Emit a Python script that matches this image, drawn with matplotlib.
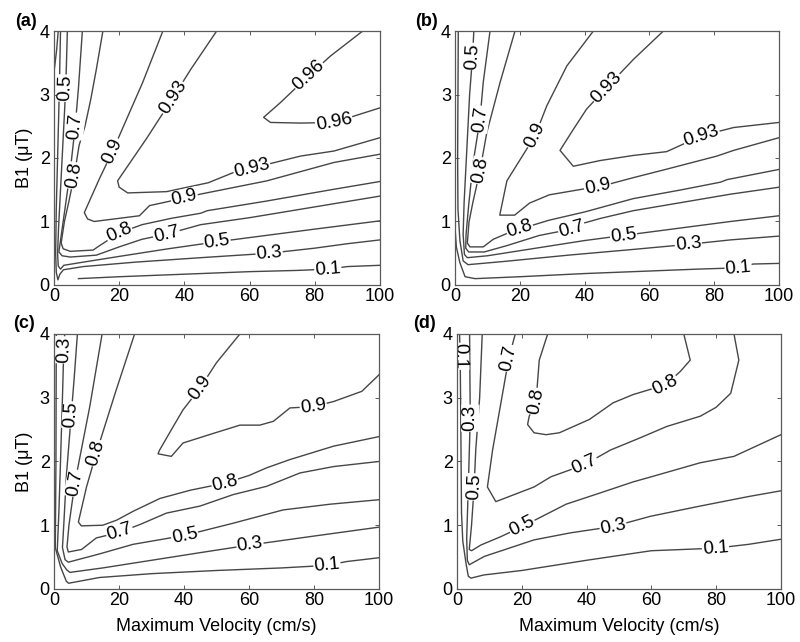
"""Four-panel contour map of labelling efficiency vs velocity and B1."""

import matplotlib
matplotlib.use("Agg")
import matplotlib.pyplot as plt
import numpy as np

plt.rcParams["font.family"] = ["Liberation Sans", "DejaVu Sans"]

LINE_COLOR = "#464646"
SPINE_COLOR = "#5a5a5a"
FS = 13

X_TICKS = [0, 20, 40, 60, 80, 100]
Y_TICKS = [0, 1, 2, 3, 4]
X_LABEL = "Maximum Velocity (cm/s)"
Y_LABEL = "B1 (\u03bcT)"

# contour lines: level -> list of polylines (velocity, B1)
LINES_A = {
    0.1: [[(1.3, 4.0), (0.8, 3.7), (0.0, 3.35)],
          [(7.5, 0.10), (20, 0.13), (40, 0.17), (60, 0.21), (75, 0.23), (84, 0.25), (90, 0.29), (100, 0.31)]],
    0.3: [[(2.0, 4.0), (1.6, 3.0), (1.1, 2.0), (0.7, 1.2), (0.5, 0.5), (0.7, 0.2), (1.2, 0.08), (1.8, 0.17),
           (2.9, 0.24), (9, 0.29), (25, 0.36), (45, 0.43), (66, 0.50), (80, 0.58), (90, 0.65), (100, 0.71)]],
    0.5: [[(4.1, 4.0), (3.6, 3.1), (2.8, 2.3), (2.0, 1.5), (1.4, 0.9), (1.1, 0.5), (1.3, 0.3), (2.0, 0.25),
           (3.0, 0.31), (9, 0.36), (20, 0.45), (35, 0.57), (50, 0.68), (65, 0.78), (80, 0.88), (100, 1.01)]],
    0.7: [[(8.7, 4.0), (7.5, 3.1), (6.5, 2.5), (5.0, 1.8), (3.5, 1.25), (2.4, 0.85), (1.5, 0.52), (2.5, 0.46),
           (5, 0.44), (13, 0.47), (20, 0.6), (27, 0.72), (34.5, 0.80), (45, 0.95), (60, 1.06), (80, 1.23),
           (100, 1.40)]],
    0.8: [[(15, 4.0), (13, 3.4), (11.3, 2.93), (9.5, 2.5), (7.7, 2.2), (6.2, 1.72), (4.5, 1.3), (3.2, 1.0),
           (2.6, 0.8), (2.2, 0.66), (2.8, 0.57), (5, 0.53), (12, 0.55), (14, 0.62), (17, 0.72), (20, 0.82),
           (27, 0.95), (36, 1.05), (45, 1.13), (47, 1.17), (65, 1.32), (85, 1.5), (100, 1.63)]],
    0.9: [[(33.4, 4.0), (27.2, 3.19), (18, 2.11), (13.9, 1.67), (9.3, 1.14), (10.3, 1.04), (12.3, 1.0),
           (26.2, 1.09), (29.3, 1.25), (40, 1.37), (44.8, 1.43), (65.3, 1.64), (85.9, 1.93), (100, 2.06)]],
    0.93: [[(49.9, 4.0), (42, 3.4), (36.5, 2.95), (28.3, 2.30), (19.5, 1.64), (20, 1.54), (22.6, 1.45),
            (34.5, 1.47), (47.3, 1.61), (55, 1.77), (60.7, 1.84), (75.6, 2.03), (85.9, 2.11), (100, 2.32)]],
    0.96: [[(94.7, 4.0), (84.9, 3.61), (78.2, 3.3), (69.4, 2.87), (64.3, 2.64), (66.4, 2.56), (75.6, 2.55),
            (85.9, 2.56), (100, 2.79)]],
}
LABELS_A = [(0.96, 78.2, 3.3), (0.96, 85.9, 2.56), (0.93, 36.5, 2.95), (0.93, 60.7, 1.84),
            (0.9, 18, 2.11), (0.9, 40, 1.37), (0.8, 6.2, 1.72), (0.8, 20, 0.82), (0.7, 6.5, 2.5),
            (0.7, 34.5, 0.80), (0.5, 3.6, 3.1), (0.5, 50, 0.68), (0.3, 66, 0.50), (0.1, 84, 0.25)]

LINES_B = {
    0.1: [[(0.0, 0.9), (0.4, 0.6), (1.5, 0.35), (3.1, 0.13), (6.2, 0.10), (20, 0.13), (40, 0.18), (60, 0.22),
           (75, 0.25), (87.4, 0.27), (92, 0.33), (100, 0.34)]],
    0.3: [[(1.0, 4.0), (0.9, 3.0), (0.8, 2.0), (0.9, 1.2), (1.5, 0.7), (2.5, 0.38), (4, 0.32), (15, 0.37),
           (35, 0.47), (55, 0.56), (72, 0.64), (85, 0.71), (100, 0.77)]],
    0.5: [[(5.8, 4.0), (5.4, 3.6), (4.5, 3.0), (3.5, 2.0), (2.8, 1.3), (2.5, 0.8), (2.9, 0.48), (3.8, 0.43),
           (10, 0.46), (25, 0.58), (40, 0.70), (52, 0.78), (70, 0.9), (85, 1.0), (100, 1.09)]],
    0.7: [[(10.8, 4.0), (8.7, 3.19), (7.7, 2.61), (5.5, 1.9), (4.2, 1.25), (3.4, 0.8), (3.3, 0.58),
           (4.2, 0.52), (9, 0.52), (16, 0.62), (26, 0.78), (36, 0.88), (38, 0.95), (45, 1.05), (55, 1.17),
           (70, 1.3), (85, 1.43), (100, 1.54)]],
    0.8: [[(18.5, 4.0), (13.9, 3.19), (9.8, 2.4), (7.7, 1.8), (5.5, 1.3), (4.3, 0.99), (3.8, 0.66),
           (4.6, 0.6), (8.7, 0.6), (11.8, 0.72), (16.4, 0.82), (20, 0.88), (29, 1.02), (40, 1.15),
           (55, 1.36), (70, 1.5), (82, 1.62), (84, 1.66), (100, 1.82)]],
    0.9: [[(42.7, 4.0), (34.5, 3.45), (28.3, 2.82), (24.7, 2.35), (20.4, 2.0), (16, 1.64), (13.8, 1.10),
           (18.4, 1.10), (23, 1.29), (29.1, 1.42), (39.4, 1.51), (44, 1.54), (55, 1.69), (65, 1.82),
           (80.8, 2.03), (86, 2.12), (100, 2.32)]],
    0.93: [[(64.3, 4.0), (55, 3.55), (46.8, 3.11), (40.6, 2.77), (36.5, 2.45), (32.4, 2.12), (36.5, 1.87),
            (44.8, 1.96), (55, 2.04), (65.3, 2.1), (70.5, 2.22), (76, 2.35), (86, 2.48), (100, 2.56)]],
}
LABELS_B = [(0.93, 46.8, 3.11), (0.93, 76, 2.35), (0.9, 24.7, 2.35), (0.9, 44, 1.54), (0.8, 7.7, 1.8),
            (0.8, 20, 0.88), (0.7, 7.7, 2.61), (0.7, 36, 0.88), (0.5, 5.4, 3.6), (0.5, 52, 0.78),
            (0.3, 72, 0.64), (0.1, 87.4, 0.27)]

LINES_C = {
    0.1: [[(0.7, 4.0), (0.6, 2.0), (0.4, 0.65), (2.0, 0.35), (3.8, 0.12), (4.5, 0.09), (14, 0.18), (30, 0.24),
           (50, 0.29), (70, 0.33), (84, 0.37), (90, 0.43), (100, 0.49)]],
    0.3: [[(3.3, 4.0), (3.0, 3.75), (2.6, 3.0), (2.0, 2.0), (1.5, 1.2), (1.0, 0.6), (2.5, 0.4), (3.9, 0.3),
           (4.9, 0.26), (15, 0.33), (30, 0.45), (45, 0.57), (60.3, 0.69), (80, 0.83), (100, 0.97)]],
    0.5: [[(7.2, 4.0), (6.2, 3.3), (5.3, 2.73), (3.8, 1.77), (3.0, 1.0), (2.6, 0.65), (3.4, 0.46),
           (4.4, 0.42), (14, 0.55), (24.3, 0.7), (40.2, 0.84), (55, 1.03), (70.5, 1.24), (85, 1.33),
           (100, 1.40)]],
    0.7: [[(14.8, 4.0), (11, 2.86), (6.4, 1.66), (4.6, 1.0), (4.0, 0.66), (4.4, 0.58), (8.5, 0.62),
           (13, 0.8), (20.2, 0.89), (26.4, 1.01), (34.6, 1.19), (44.9, 1.30), (55.1, 1.48), (65.4, 1.61),
           (75.7, 1.82), (86, 1.92), (100, 2.0)]],
    0.8: [[(24.8, 4.0), (19, 3.1), (13, 2.13), (10, 1.6), (7.5, 1.05), (8.4, 0.99), (15, 1.0), (19.3, 1.08),
           (24.4, 1.22), (32.6, 1.42), (42, 1.55), (52.6, 1.66), (60, 1.78), (65.4, 1.9), (72.6, 2.03),
           (86, 2.24), (100, 2.39)]],
    0.9: [[(57.2, 4.0), (50, 3.55), (44.9, 3.15), (39.7, 2.81), (36.7, 2.55), (32.5, 2.18), (32, 2.12),
           (36.1, 2.08), (39.7, 2.29), (49, 2.44), (57.2, 2.57), (63.3, 2.57), (67.5, 2.63), (72.6, 2.84),
           (79.8, 2.86), (86, 2.94), (94.7, 3.1), (100, 3.36)]],
}
LABELS_C = [(0.9, 44.9, 3.15), (0.9, 79.8, 2.86), (0.8, 13, 2.13), (0.8, 52.6, 1.66), (0.7, 6.4, 1.66),
            (0.7, 20.2, 0.89), (0.5, 5.3, 2.73), (0.5, 40.2, 0.84), (0.3, 3.0, 3.75), (0.3, 60.3, 0.69),
            (0.1, 84, 0.37)]

LINES_D = {
    0.1: [[(0.8, 4.0), (1.0, 3.65), (1.2, 2.5), (1.4, 1.2), (1.8, 0.75), (2.8, 0.4), (3.5, 0.2), (4.3, 0.17),
           (8.3, 0.22), (20, 0.29), (40, 0.45), (60, 0.6), (70, 0.62), (79.8, 0.64), (90, 0.7), (100, 0.78)]],
    0.3: [[(3.9, 4.0), (4.1, 2.68), (3.5, 1.6), (3.0, 0.8), (3.2, 0.45), (3.8, 0.38), (8.4, 0.51),
           (23.8, 0.77), (35, 0.88), (48.2, 0.98), (59.7, 1.14), (75, 1.3), (90, 1.45), (100, 1.54)]],
    0.5: [[(7.8, 4.0), (7, 3.0), (5.8, 2.18), (5.3, 1.6), (4.5, 1.0), (3.8, 0.62), (4.5, 0.6), (7.4, 0.69),
           (13.5, 0.82), (20.2, 0.98), (33.7, 1.33), (45, 1.52), (54.4, 1.68), (60, 1.76), (75.1, 1.98),
           (85.5, 2.08), (100, 2.42)]],
    0.7: [[(18, 4.0), (16, 3.62), (13.5, 2.9), (11, 2.18), (9.4, 1.6), (12, 1.37), (23.8, 1.6), (29, 1.76),
           (39.4, 1.95), (47.4, 2.18), (56.5, 2.37), (64.8, 2.55), (75.1, 2.71), (80, 2.85), (84.5, 3.07),
           (87, 3.59), (85.5, 4.0)]],
    0.8: [[(28, 4.0), (25.4, 3.59), (24.4, 2.94), (22.3, 2.71), (21.8, 2.58), (23.8, 2.45), (27.5, 2.42),
           (31.6, 2.45), (40.9, 2.66), (48.2, 2.92), (54.4, 3.05), (64.2, 3.2), (68.9, 3.41), (72, 3.59),
           (70, 4.0)]],
}
LABELS_D = [(0.8, 24.4, 2.94), (0.8, 64.2, 3.2), (0.7, 16, 3.62), (0.7, 39.4, 1.95), (0.5, 5.3, 1.6),
            (0.5, 20.2, 0.98), (0.3, 4.1, 2.68), (0.3, 48.2, 0.98), (0.1, 1.0, 3.65), (0.1, 79.8, 0.64)]

PANEL_TAGS = ["(a)", "(b)", "(c)", "(d)"]


def label_angle(ax, segs, x, y):
    target = ax.transData.transform((x, y))
    best = None
    for seg in segs:
        pts = ax.transData.transform(np.array(seg, dtype=float))
        d = np.hypot(pts[:, 0] - target[0], pts[:, 1] - target[1])
        i = int(np.argmin(d))
        if best is None or d[i] < best[0]:
            best = (d[i], pts, i)
    _, pts, i = best
    p0 = pts[max(i - 1, 0)]
    p1 = pts[min(i + 1, len(pts) - 1)]
    ang = np.degrees(np.arctan2(p1[1] - p0[1], p1[0] - p0[0]))
    if ang > 90:
        ang -= 180
    elif ang <= -90:
        ang += 180
    return ang


def draw_panel(ax, lines, labels, show_x, show_y):
    ax.set_xlim(0, 100)
    ax.set_ylim(0, 4)
    for segs in lines.values():
        for seg in segs:
            xs, ys = zip(*seg)
            ax.plot(xs, ys, color=LINE_COLOR, lw=1.0, zorder=2)
    for lev, x, y in labels:
        ang = label_angle(ax, lines[lev], x, y)
        ax.text(x, y, f"{lev:g}", rotation=ang, rotation_mode="anchor", ha="center", va="center",
                fontsize=FS + 0.5, zorder=2.2,
                bbox=dict(facecolor="white", edgecolor="none", pad=0.4))

    ax.set_xticks(X_TICKS)
    ax.set_yticks(Y_TICKS)
    ax.tick_params(direction="in", length=3, width=0.7, color=SPINE_COLOR, top=True, right=True,
                   labelsize=FS)
    ax.tick_params(axis="x", pad=2)
    ax.tick_params(axis="y", pad=3)
    for spine in ax.spines.values():
        spine.set_color(SPINE_COLOR)
        spine.set_linewidth(0.9)
    if show_x:
        ax.set_xlabel(X_LABEL, fontsize=FS)
        ax.xaxis.set_label_coords(0.5, -0.115)
    if show_y:
        ax.set_ylabel(Y_LABEL, fontsize=FS)
        ax.yaxis.set_label_coords(-0.064, 0.5)


def main():
    fig = plt.figure(figsize=(8.0, 6.42), dpi=100)
    rects = [
        (0.0675, 0.5561, 0.4075, 0.3956),
        (0.5688, 0.5561, 0.4050, 0.3956),
        (0.0675, 0.0826, 0.4063, 0.3972),
        (0.5712, 0.0826, 0.4050, 0.3972),
    ]
    data = [(LINES_A, LABELS_A), (LINES_B, LABELS_B), (LINES_C, LABELS_C), (LINES_D, LABELS_D)]
    tag_pos = [(26, 21), (426, 21), (24, 323), (424, 323)]
    for k, (rect, (lines, labels)) in enumerate(zip(rects, data)):
        ax = fig.add_axes(rect)
        draw_panel(ax, lines, labels, show_x=k >= 2, show_y=k % 2 == 0)
        tx, ty = tag_pos[k]
        fig.text(tx / 800, 1 - ty / 642, PANEL_TAGS[k], fontsize=FS, fontweight="bold",
                 ha="center", va="center")

    fig.savefig("out.png", dpi=100, facecolor="white")


if __name__ == "__main__":
    main()
